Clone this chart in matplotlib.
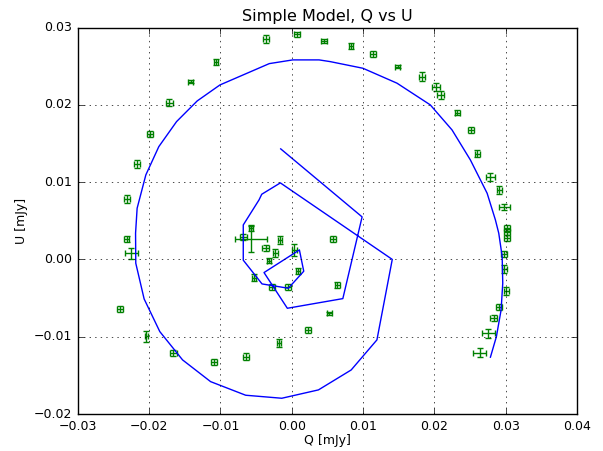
import numpy as np
import matplotlib
matplotlib.use("Agg")
import matplotlib.pyplot as plt

plt.style.use("classic")

# observed Q/U points
q_obs = [-0.00365, 0.00074, 0.00454, -0.01067, -0.01419, -0.01719, -0.0199,
         -0.02168, -0.02309, 0.00829, 0.01142, 0.01483, 0.01826, 0.02022,
         0.02087, 0.02322, 0.02514, 0.02603, 0.02785, 0.02912, 0.02982,
         0.0302, 0.0302, 0.0302, 0.02972, 0.02982, 0.0301, 0.02902, 0.02832,
         0.02757, 0.02635, 0.00576, 0.0064, 0.00528, -0.02317, -0.02247,
         -0.02411, -0.02037, -0.01663, -0.01091, -0.00642, -0.00174, 0.00229,
         -0.0068, -0.00567, -0.00567, -0.0016, -0.00365, -0.0023, -0.00323,
         0.00037, 0.00084, -0.00534, -0.00277, -0.00048]
u_obs = [0.02853, 0.02913, 0.02827, 0.02555, 0.02296, 0.02029, 0.0162,
         0.01235, 0.00783, 0.02766, 0.02662, 0.02494, 0.02365, 0.02228,
         0.02124, 0.01899, 0.01675, 0.01369, 0.01063, 0.00899, 0.00679,
         0.0041, 0.0035, 0.0028, 0.00071, -0.00123, -0.00404, -0.00618,
         -0.00753, -0.00955, -0.01206, 0.00265, -0.0033, -0.00696, 0.00269,
         0.0008, -0.0064, -0.00994, -0.01214, -0.0133, -0.01257, -0.01084,
         -0.00916, 0.00295, 0.00265, 0.00411, 0.00252, 0.00145, 0.0008,
         -0.00015, 0.00123, -0.00149, -0.00235, -0.00352, -0.0036]
q_err = [0.0004, 0.0004, 0.0004, 0.0003, 0.0003, 0.0005, 0.0004, 0.0004,
         0.0004, 0.0003, 0.0004, 0.0003, 0.0004, 0.0005, 0.0005, 0.0004,
         0.0004, 0.0003, 0.0006, 0.0004, 0.0008, 0.0004, 0.0004, 0.0004,
         0.0004, 0.0003, 0.0004, 0.0004, 0.0005, 0.0009, 0.0009, 0.0004,
         0.0003, 0.0003, 0.0004, 0.0009, 0.0004, 0.0002, 0.0005, 0.0004,
         0.0004, 0.0003, 0.0004, 0.0005, 0.00225, 0.0003, 0.0003, 0.0005,
         0.0004, 0.0003, 0.0003, 0.0003, 0.0003, 0.0004, 0.0004]
u_err = [0.0005, 0.0003, 0.0003, 0.0004, 0.0002, 0.0005, 0.0004, 0.0005,
         0.0005, 0.0004, 0.0004, 0.0002, 0.0006, 0.0005, 0.0005, 0.0003,
         0.0004, 0.0005, 0.0005, 0.0005, 0.0004, 0.0004, 0.0004, 0.0004,
         0.0004, 0.0005, 0.0005, 0.0004, 0.0004, 0.0006, 0.0006, 0.0004,
         0.0004, 0.0002, 0.0004, 0.0007, 0.0004, 0.0007, 0.0004, 0.0004,
         0.0005, 0.0005, 0.0004, 0.0004, 0.00173, 0.0004, 0.0005, 0.0004,
         0.0005, 0.0003, 0.0008, 0.0004, 0.0004, 0.0004, 0.0004]

# model track
q_mod = [-0.00155, 0.00986, 0.00716, -0.00062, -0.00389, 0.00107, 0.00168,
         -0.00048, -0.00417, -0.0068, -0.0068, -0.00459, -0.00421, -0.0016,
         0.01409, 0.01194, 0.00833, 0.00374, -0.0014, -0.00646, -0.01138,
         -0.01531, -0.0185, -0.0207, -0.02187, -0.0219, -0.02168, -0.02046,
         -0.01864, -0.01615, -0.01326, -0.01007, -0.00315, 0.00014, 0.00383,
         0.00538, 0.00997, 0.01475, 0.01942, 0.02247, 0.02504, 0.02739,
         0.02855, 0.02902, 0.0295, 0.02958, 0.02935, 0.02869, 0.02785]
u_mod = [0.0143, 0.0055, -0.00507, -0.00632, -0.0017, 0.00123, -0.00153,
         -0.00373, -0.00317, -0.0001, 0.00446, 0.0077, 0.00843, 0.0099,
         0.0, -0.01041, -0.0143, -0.01688, -0.01796, -0.01757, -0.01581,
         -0.013, -0.00934, -0.00511, -0.00049, 0.0034, 0.00662, 0.01093,
         0.01459, 0.01783, 0.0205, 0.02257, 0.02533, 0.02581, 0.02581,
         0.02559, 0.02473, 0.0228, 0.01999, 0.01675, 0.01287, 0.00856,
         0.00511, 0.00339, 0.00036, -0.00308, -0.00653, -0.00999, -0.01265]

fig = plt.figure(figsize=(6.03, 4.51), dpi=100, facecolor="white")
ax = fig.add_axes([0.129, 0.082, 0.828, 0.857])

ax.errorbar(q_obs, u_obs, xerr=q_err, yerr=u_err, fmt="none", ecolor="g",
            elinewidth=1, capsize=2.5, capthick=1)
ax.plot(q_mod, u_mod, "b-", lw=1)

ax.set_xlim(-0.03, 0.04)
ax.set_ylim(-0.02, 0.03)
ax.grid(True)
ax.set_title("Simple Model, Q vs U", fontsize=11.5)
ax.set_xlabel("Q [mJy]", fontsize=9, labelpad=1)
ax.set_ylabel("U [mJy]", fontsize=9, labelpad=4)
ax.tick_params(labelsize=9)

fig.savefig("out.png", dpi=100, facecolor="white")
